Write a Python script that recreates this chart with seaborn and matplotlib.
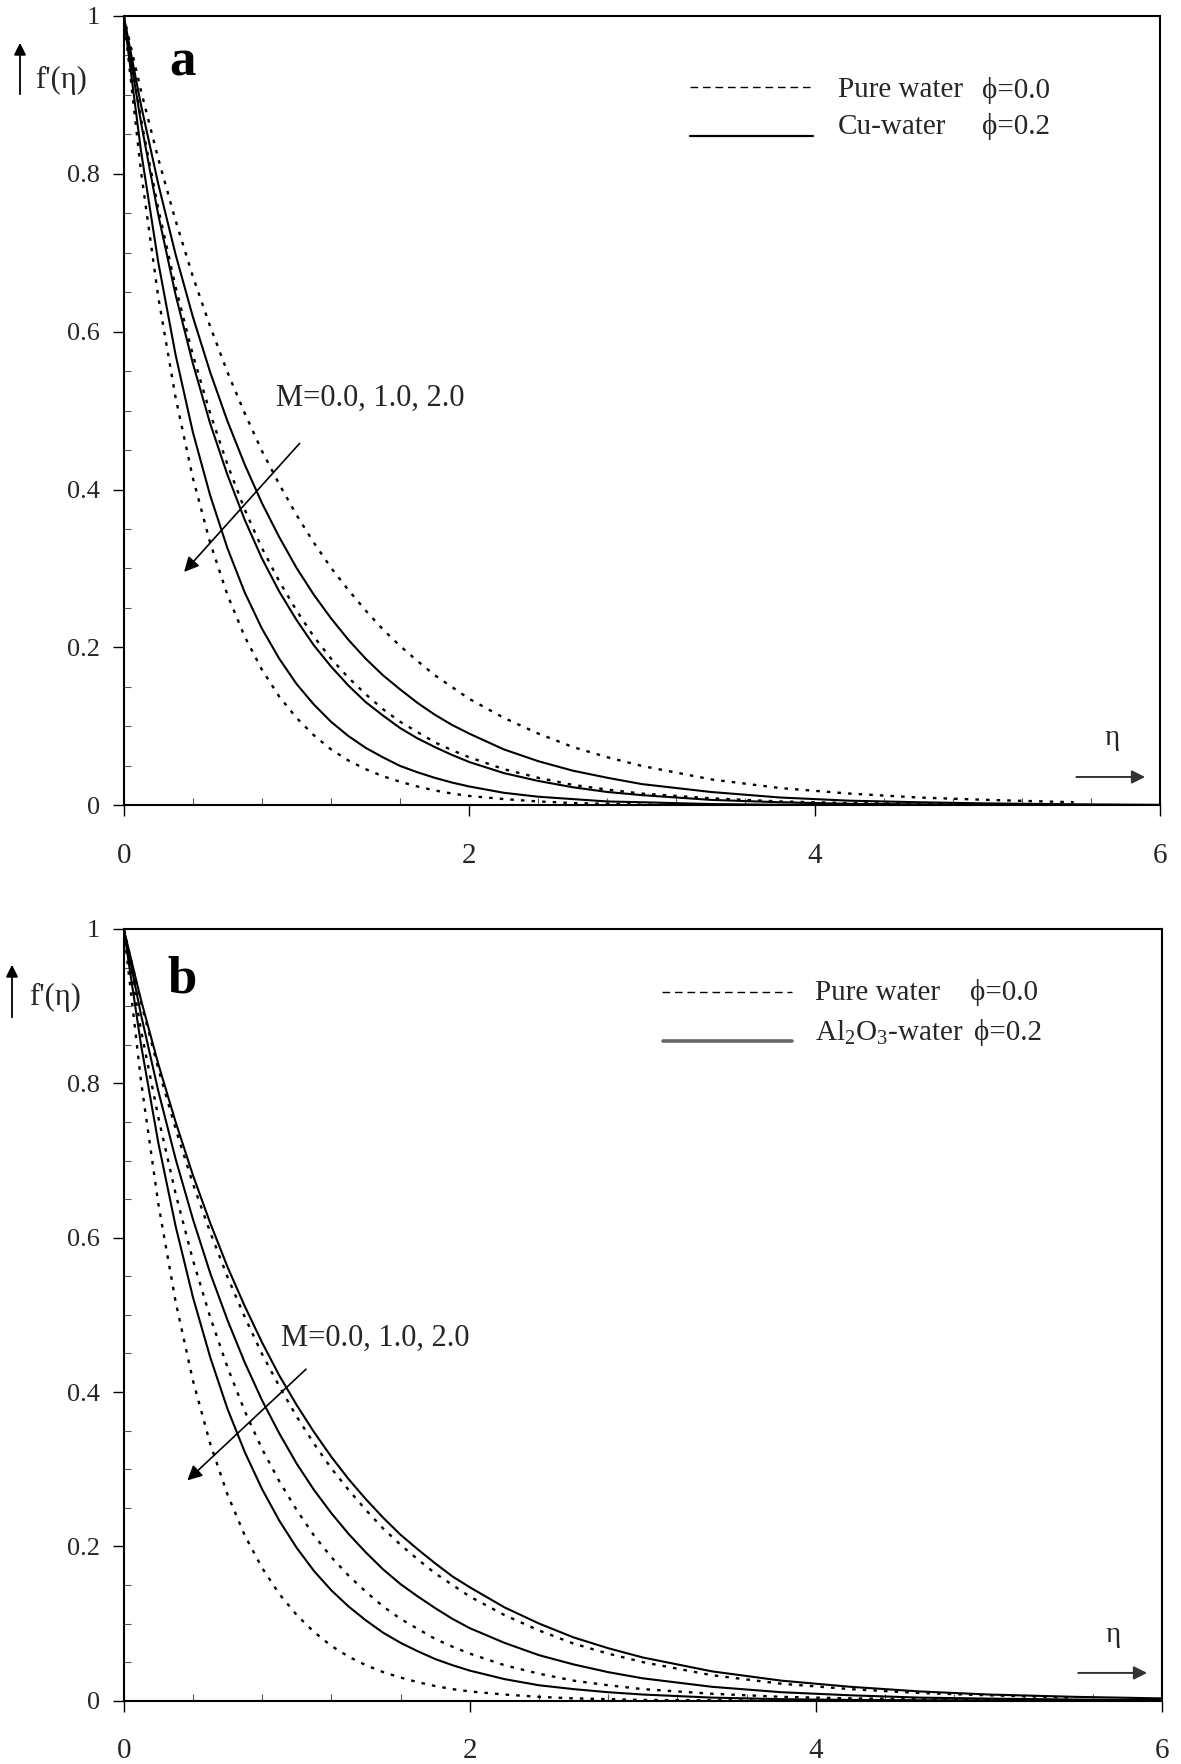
import numpy as np
import pandas as pd
import matplotlib
matplotlib.use("Agg")
import matplotlib.pyplot as plt
from matplotlib.ticker import MultipleLocator, FixedLocator, FixedFormatter
import seaborn as sns

# ---------------- data ----------------
eta = [0, 0.1, 0.2, 0.3, 0.4, 0.5, 0.6, 0.7, 0.8, 0.9, 1.0,
       1.1, 1.2, 1.3, 1.4, 1.5, 1.6, 1.7, 1.8, 1.9, 2.0,
       2.2, 2.4, 2.6, 2.8, 3.0, 3.4, 3.8, 4.2, 4.6, 5.0, 5.5, 6.0]

# pure water, phi = 0.0 (dashed), M = 0, 1, 2  (drawn up to eta = 5.5)
water_M0 = [1, .905, .819, .741, .670, .607, .549, .497, .449, .407, .368,
            .333, .301, .273, .247, .223, .202, .183, .165, .150, .135,
            .111, .091, .074, .061, .050, .033, .022, .015, .010, .007, .004]
water_M1 = [1, .869, .756, .657, .571, .497, .432, .375, .326, .284, .247,
            .214, .186, .162, .141, .122, .106, .093, .080, .070, .061,
            .046, .035, .026, .020, .015, .009, .005, .003, .002, .001, .0005]
water_M2 = [1, .803, .644, .517, .415, .333, .267, .214, .172, .138, .111,
            .089, .071, .057, .046, .037, .030, .024, .019, .015, .012,
            .008, .005, .003, .002, .001, .0006, .0002, .0001, 0, 0, 0]

# Cu-water, phi = 0.2 (solid), M = 0, 1, 2
cu_M0 = [1, .887, .787, .698, .619, .549, .487, .432, .383, .340, .301,
         .267, .237, .210, .186, .165, .147, .130, .115, .102, .091,
         .071, .056, .044, .035, .027, .017, .010, .006, .004, .0025, .0014, .0007]
cu_M1 = [1, .865, .748, .647, .560, .484, .419, .362, .313, .271, .235,
         .203, .176, .152, .131, .114, .098, .085, .074, .064, .055,
         .041, .031, .023, .017, .013, .007, .004, .002, .0013, .0007, .0003, .0002]
cu_M2 = [1, .829, .688, .571, .473, .393, .326, .270, .224, .186, .154,
         .128, .106, .088, .073, .061, .050, .042, .035, .029, .024,
         .016, .011, .008, .005, .004, .0017, .0008, .0004, .0002, .0001, 0, 0]

# Al2O3-water, phi = 0.2 (solid), M = 0, 1, 2
al_M0 = [1, .908, .825, .750, .681, .619, .562, .511, .464, .421, .383,
         .348, .316, .287, .261, .237, .215, .196, .178, .161, .147,
         .121, .100, .082, .068, .056, .038, .026, .018, .012, .008, .005, .003]
al_M1 = [1, .889, .790, .702, .624, .554, .493, .438, .389, .346, .307,
         .273, .243, .216, .192, .170, .151, .135, .120, .106, .094,
         .075, .059, .047, .037, .029, .018, .011, .007, .004, .0027, .0015, .0008]
al_M2 = [1, .850, .723, .615, .523, .445, .378, .322, .274, .233, .198,
         .168, .143, .122, .104, .088, .075, .064, .054, .046, .039,
         .028, .020, .015, .011, .008, .004, .002, .001, .0006, .0003, .0001, 0]

x_ticks = [0, 2, 4, 6]
x_labels = ["0", "2", "4", "6"]
y_ticks = [0, 0.2, 0.4, 0.6, 0.8, 1.0]
y_labels = ["0", "0.2", "0.4", "0.6", "0.8", "1"]

# ---------------- style ----------------
sns.set_theme(style="white")
plt.rcParams['font.family'] = ['Liberation Serif', 'DejaVu Serif']
plt.rcParams['mathtext.fontset'] = 'custom'
plt.rcParams['mathtext.rm'] = 'Liberation Serif'
plt.rcParams['mathtext.default'] = 'regular'

W, H = 1181, 1764
fig = plt.figure(figsize=(W / 100, H / 100), dpi=100)
fig.patch.set_facecolor("white")

ax_a = fig.add_axes([0.10474, 0.54342, 0.87748, 0.44768])
ax_b = fig.add_axes([0.10474, 0.03588, 0.87917, 0.43748])

DOT = (0, (1.5, 3.0))
TXT = "#262626"


def style_axes(ax):
    ax.set_xlim(0, 6)
    ax.set_ylim(0, 1)
    ax.set_facecolor("white")
    for s in ax.spines.values():
        s.set_visible(True)
        s.set_color("black")
        s.set_linewidth(1.5)
    ax.xaxis.set_major_locator(FixedLocator(x_ticks))
    ax.xaxis.set_major_formatter(FixedFormatter(x_labels))
    ax.yaxis.set_major_locator(FixedLocator(y_ticks))
    ax.yaxis.set_major_formatter(FixedFormatter(y_labels))
    ax.xaxis.set_minor_locator(MultipleLocator(0.4))
    ax.yaxis.set_minor_locator(MultipleLocator(0.05))
    ax.tick_params(which='major', direction='out', length=8, width=1.0,
                   color='black', bottom=True, left=True, top=False, right=False)
    ax.tick_params(which='minor', direction='in', length=5, width=0.8,
                   color='#555555', bottom=True, left=True, top=False, right=False)
    ax.tick_params(axis='x', which='major', labelsize=21, pad=19, labelcolor=TXT)
    ax.tick_params(axis='y', which='major', labelsize=19, pad=9, labelcolor=TXT)
    ax.set_xlabel("")
    ax.set_ylabel("")
    ax.grid(False)


def draw_curves(ax, solids):
    for vals in [water_M0, water_M1, water_M2]:
        sns.lineplot(x=eta[:len(vals)], y=vals, ax=ax, color='black',
                     linestyle=DOT, linewidth=1.7, sort=False, estimator=None)
    for vals in solids:
        sns.lineplot(x=eta, y=vals, ax=ax, color='black', linestyle='-',
                     linewidth=1.5, sort=False, estimator=None)


draw_curves(ax_a, [cu_M0, cu_M1, cu_M2])
draw_curves(ax_b, [al_M0, al_M1, al_M2])
style_axes(ax_a)
style_axes(ax_b)


def px(x, y):
    return (x / W, 1 - y / H)


# panel labels
fig.text(*px(182, 62), "a", fontsize=38, fontweight='bold', ha='center',
         va='center', color='black')
fig.text(*px(182, 979), "b", fontsize=38, fontweight='bold', ha='center',
         va='center', color='black')

# y-axis labels with arrows
for (ax_x, y_top, y_bot, tx, ty) in [(20, 40, 97, 35, 80), (12, 962, 1020, 29, 997)]:
    fig.add_artist(matplotlib.patches.FancyArrowPatch(
        px(ax_x, y_bot), px(ax_x, y_top), transform=fig.transFigure,
        arrowstyle='-|>', mutation_scale=18, lw=1.3, color='black'))
    fig.text(*px(tx, ty), "f'(η)", fontsize=22, ha='left', va='center', color=TXT)

# eta arrows at lower right
for ax in (ax_a, ax_b):
    ax.annotate("", xy=(5.93, 0.036), xytext=(5.5, 0.036),
                arrowprops=dict(arrowstyle='-|>', mutation_scale=20, lw=1.4,
                                color='#333333'))
    ax.text(5.72, 0.085, "η", fontsize=21, ha='center', va='center', color=TXT)

# M annotations
ax_a.text(0.88, 0.515, "M=0.0, 1.0, 2.0", fontsize=22, ha='left', va='center', color=TXT)
ax_a.annotate("", xy=(0.339, 0.293), xytext=(1.029, 0.461),
              arrowprops=dict(arrowstyle='-|>', mutation_scale=22, lw=1.2, color='black'))
ax_b.text(0.909, 0.469, "M=0.0, 1.0, 2.0", fontsize=22, ha='left', va='center', color=TXT)
ax_b.annotate("", xy=(0.356, 0.283), xytext=(1.065, 0.432),
              arrowprops=dict(arrowstyle='-|>', mutation_scale=22, lw=1.2, color='black'))


# legends (drawn manually in figure pixels)
def leg_line(x0, x1, y, **kw):
    fig.add_artist(matplotlib.lines.Line2D([x0 / W, x1 / W], [1 - y / H, 1 - y / H],
                                           transform=fig.transFigure, **kw))


# panel a
leg_line(690, 810, 87, color='black', lw=1.0, linestyle=(0, (5.5, 3.5)))
leg_line(690, 813, 136, color='black', lw=1.6)
fig.text(*px(838, 90), "Pure water", fontsize=21, ha='left', va='center', color=TXT)
fig.text(*px(982, 90), "ϕ=0.0", fontsize=21, ha='left', va='center', color=TXT)
fig.text(*px(838, 127), "Cu-water", fontsize=21, ha='left', va='center', color=TXT)
fig.text(*px(982, 127), "ϕ=0.2", fontsize=21, ha='left', va='center', color=TXT)

# panel b
leg_line(662, 792, 992, color='black', lw=1.0, linestyle=(0, (5.5, 3.5)))
leg_line(663, 792, 1041, color='#666666', lw=2.6)
fig.text(*px(815, 993), "Pure water", fontsize=21, ha='left', va='center', color=TXT)
fig.text(*px(970, 993), "ϕ=0.0", fontsize=21, ha='left', va='center', color=TXT)
fig.text(*px(815, 1033), "Al$_2$O$_3$-water", fontsize=21, ha='left', va='center', color=TXT)
fig.text(*px(974, 1033), "ϕ=0.2", fontsize=21, ha='left', va='center', color=TXT)

fig.savefig("out.png", dpi=100, facecolor="white")
